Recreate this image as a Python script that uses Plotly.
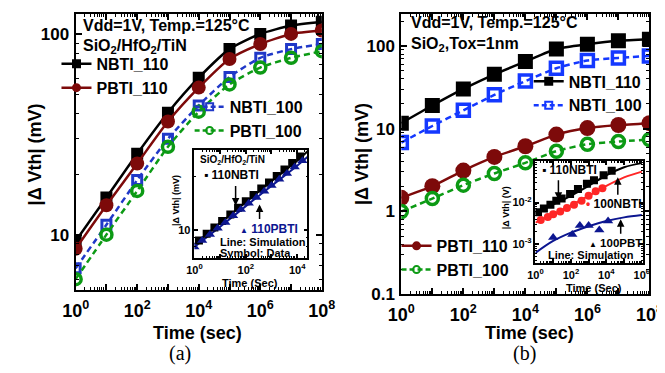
import plotly.graph_objects as go

W, H = 665, 373


def px(x):
    return x / W


def py(y):
    return 1 - y / H


FONT = "Arial, 'Liberation Sans', Helvetica, sans-serif"
SERIF = "'Times New Roman', 'Liberation Serif', serif"

# ---------------- data ----------------
time_main = [1e0, 1e1, 1e2, 1e3, 1e4, 1e5, 1e6, 1e7, 1e8]

# panel (a)  SiO2/HfO2/TiN   (mV)
a_nbti110 = [9.3, 15.3, 25.3, 40.5, 60.5, 84, 100, 110, 115]
a_pbti110 = [8.5, 14.0, 22.6, 36.6, 54, 75, 89, 100, 104]
a_nbti100 = [6.8, 11.2, 18.7, 30, 44, 61, 76, 84, 89]
a_pbti100 = [6.0, 10.0, 16.5, 27.4, 41, 56, 68, 76, 82]

# panel (b)  SiO2, Tox=1nm   (mV)
b_nbti110 = [11.7, 19.1, 30.3, 45.6, 65, 92, 105, 116, 121]
b_nbti100 = [6.8, 10.8, 16.7, 25.7, 37.7, 54, 67, 72, 76]
b_pbti110 = [1.46, 2.02, 3.12, 4.56, 6.14, 8.5, 10.2, 11.1, 11.7]
b_pbti100 = [1.0, 1.43, 2.08, 2.88, 3.87, 5.36, 6.5, 7.0, 7.4]

# inset (a): data (symbols) and simulation (lines), mV
ia_nbti_t = [1.5, 3, 6, 12, 25, 50, 100, 200, 400, 800, 1600, 3200, 6400, 13000]
ia_nbti_v = [8.7, 9.5, 10.3, 11.2, 12.2, 13.3, 14.5, 15.7, 17.1, 18.5, 20.1, 21.9, 23.8, 25.9]
ia_pbti_t = [1, 2, 4, 8, 16, 32, 64, 130, 260, 520, 1000, 2000, 4000, 8000, 16000]
ia_pbti_v = [8.0, 8.7, 9.4, 10.2, 11.0, 12.0, 13.0, 14.1, 15.2, 16.5, 17.8, 19.3, 20.8, 22.6, 24.5]
ia_sim_t = [1, 10, 100, 1000, 10000, 27000]
ia_sim_nbti = [8.3, 10.9, 14.3, 18.8, 24.5, 28.0]
ia_sim_pbti = [8.0, 10.4, 13.6, 17.7, 23.0, 26.0]

# inset (b): data (symbols) and simulation (lines), V
ib_n110_t = [1.4, 3, 7, 15, 30, 90, 250, 800, 2000, 7000, 20000]
ib_n110_v = [0.0058, 0.0072, 0.0088, 0.011, 0.0125, 0.016, 0.021, 0.028, 0.034, 0.045, 0.058]
ib_n100_t = [2, 5, 10, 25, 60, 150, 400, 1000, 2500, 6000]
ib_n100_v = [0.0038, 0.0045, 0.0052, 0.0061, 0.0074, 0.0088, 0.011, 0.0145, 0.0185, 0.022]
ib_p100_t = [10, 120, 320, 1000, 4000, 12500]
ib_p100_v = [0.00145, 0.0017, 0.0028, 0.0028, 0.0022, 0.0036]
ib_sim_t = [1, 10, 100, 1e3, 1e4, 1e5, 1e6]
ib_sim_n110 = [0.0055, 0.009, 0.0145, 0.025, 0.045, 0.07, 0.088]
ib_sim_n100 = [0.0033, 0.0052, 0.0085, 0.0145, 0.025, 0.040, 0.055]
ib_sim_p100 = [0.00062, 0.0012, 0.0019, 0.0027, 0.0036, 0.0044, 0.005]

BLACK = "#000000"
DARKRED = "#7d0a0a"
BLUE_A = "#2038c8"
BLUE_B = "#1438ff"
GREEN = "#0c9a14"
NAVY = "#0c1690"
RED = "#ff2626"

fig = go.Figure()


def main_trace(t, v, name, color, symbol, size, lw_m, dash, xa, ya):
    fig.add_trace(go.Scatter(
        x=t, y=v, mode="lines+markers", name=name, showlegend=False,
        line=dict(color=color, width=2.5, dash=dash, shape="spline", smoothing=0.6),
        marker=dict(symbol=symbol, size=size, color=color, line=dict(color=color, width=lw_m)),
        xaxis=xa, yaxis=ya))


def legend_trace(name, color, symbol, dash, legend, xa, ya):
    fig.add_trace(go.Scatter(
        x=[None], y=[None], mode="lines+markers", name=name, legend=legend,
        line=dict(color=color, width=2.5, dash=dash),
        marker=dict(symbol=symbol, size=7, color=color, line=dict(color=color, width=2)),
        xaxis=xa, yaxis=ya))


DASH = "6px,4px"
LDASH = "5px,3px"
# panel (a)
main_trace(time_main, a_nbti110, "NBTI_110", BLACK, "square", 12, 0, "solid", "x", "y")
main_trace(time_main, a_pbti110, "PBTI_110", DARKRED, "circle", 14, 0, "solid", "x", "y")
main_trace(time_main, a_nbti100, "NBTI_100", BLUE_A, "square-open", 9, 3, DASH, "x", "y")
main_trace(time_main, a_pbti100, "PBTI_100", GREEN, "circle-open", 11, 3.5, DASH, "x", "y")
legend_trace("NBTI_110", BLACK, "square", "solid", "legend", "x", "y")
legend_trace("PBTI_110", DARKRED, "circle", "solid", "legend", "x", "y")
legend_trace("NBTI_100", BLUE_A, "square-open", LDASH, "legend2", "x", "y")
legend_trace("PBTI_100", GREEN, "circle-open", LDASH, "legend2", "x", "y")

# panel (b)
main_trace(time_main, b_nbti110, "NBTI_110", BLACK, "square", 15, 0, "solid", "x2", "y2")
main_trace(time_main, b_nbti100, "NBTI_100", BLUE_B, "square-open", 12, 3.5, DASH, "x2", "y2")
main_trace(time_main, b_pbti110, "PBTI_110", DARKRED, "circle", 16, 0, "solid", "x2", "y2")
main_trace(time_main, b_pbti100, "PBTI_100", GREEN, "circle-open", 12, 3.5, DASH, "x2", "y2")
legend_trace("NBTI_110", BLACK, "square", "solid", "legend3", "x2", "y2")
legend_trace("NBTI_100", BLUE_B, "square-open", LDASH, "legend3", "x2", "y2")
legend_trace("PBTI_110", DARKRED, "circle", "solid", "legend4", "x2", "y2")
legend_trace("PBTI_100", GREEN, "circle-open", LDASH, "legend4", "x2", "y2")

# inset (a)
fig.add_trace(go.Scatter(x=ia_sim_t, y=ia_sim_nbti, mode="lines", showlegend=False,
                         line=dict(color=BLACK, width=2, shape="spline"), xaxis="x3", yaxis="y3"))
fig.add_trace(go.Scatter(x=ia_sim_t, y=ia_sim_pbti, mode="lines", showlegend=False,
                         line=dict(color=NAVY, width=2, shape="spline"), xaxis="x3", yaxis="y3"))
fig.add_trace(go.Scatter(x=ia_nbti_t, y=ia_nbti_v, mode="markers", showlegend=False,
                         marker=dict(symbol="square", size=8, color=BLACK), xaxis="x3", yaxis="y3"))
fig.add_trace(go.Scatter(x=ia_pbti_t, y=ia_pbti_v, mode="markers", showlegend=False,
                         marker=dict(symbol="triangle-up", size=9, color=NAVY), xaxis="x3", yaxis="y3"))

# inset (b)
fig.add_trace(go.Scatter(x=ib_sim_t, y=ib_sim_n110, mode="lines", showlegend=False,
                         line=dict(color=BLACK, width=2, shape="spline"), xaxis="x4", yaxis="y4"))
fig.add_trace(go.Scatter(x=ib_sim_t, y=ib_sim_n100, mode="lines", showlegend=False,
                         line=dict(color=RED, width=2, shape="spline"), xaxis="x4", yaxis="y4"))
fig.add_trace(go.Scatter(x=ib_sim_t, y=ib_sim_p100, mode="lines", showlegend=False,
                         line=dict(color=NAVY, width=2, shape="spline"), xaxis="x4", yaxis="y4"))
fig.add_trace(go.Scatter(x=ib_n110_t, y=ib_n110_v, mode="markers", showlegend=False,
                         marker=dict(symbol="square", size=8, color=BLACK), xaxis="x4", yaxis="y4"))
fig.add_trace(go.Scatter(x=ib_n100_t, y=ib_n100_v, mode="markers", showlegend=False,
                         marker=dict(symbol="circle", size=8, color=RED), xaxis="x4", yaxis="y4"))
fig.add_trace(go.Scatter(x=ib_p100_t, y=ib_p100_v, mode="markers", showlegend=False,
                         marker=dict(symbol="triangle-up", size=9, color=NAVY), xaxis="x4", yaxis="y4"))


# ---------------- axes ----------------
def decades(lo, hi):
    return [10.0 ** k for k in range(lo, hi + 1)]


def minors(lo, hi):
    return [m * 10.0 ** k for k in range(lo, hi + 1) for m in range(2, 10)]


def pow_label(k):
    return "10<sup>%d</sup>" % k


def log_axis(domain, rng, tickvals, ticktext, minorvals, size, lw, tl, anchor, standoff=0):
    return dict(
        type="log", domain=domain, range=rng, anchor=anchor,
        tickmode="array", tickvals=tickvals, ticktext=ticktext,
        ticks="inside", ticklen=tl, tickwidth=1.5, tickcolor="black",
        showline=True, linewidth=lw, linecolor="black", mirror="ticks",
        showgrid=False, zeroline=False, ticklabelstandoff=standoff,
        tickfont=dict(family=FONT, size=size, color="black", weight="bold"),
        minor=dict(tickmode="array", tickvals=minorvals, ticks="inside",
                   ticklen=tl / 2, tickwidth=1, tickcolor="black", showgrid=False),
    )


xa_vals = decades(0, 8)
xa_text = [pow_label(k) if k % 2 == 0 else "" for k in range(0, 9)]

fig.update_layout(
    xaxis=log_axis([px(56), px(313)], [0, 8], xa_vals, xa_text, minors(0, 7), 18, 2, 6, "y", 3),
    yaxis=log_axis([py(290), py(6)], [0.723, 2.10], [10, 100], ["10", "100"], minors(0, 2), 17, 2, 6, "x", 1),
    xaxis2=log_axis([px(396), px(655)], [0, 8], xa_vals, xa_text, minors(0, 7), 18, 2, 6, "y2", 3),
    yaxis2=log_axis([py(294), py(6)], [-1, 2.39], [0.1, 1, 10, 100], ["0.1", "1", "10", "100"],
                    minors(-1, 2), 17, 2, 6, "x2", 1),
    xaxis3=log_axis([px(180), px(298)], [0, 4.4], decades(0, 4),
                    [pow_label(k) if k % 2 == 0 else "" for k in range(0, 5)], minors(0, 4), 11, 1.5, 4, "y3", 1),
    yaxis3=log_axis([py(257), py(146)], [0.84, 1.45], [10], ["10"], minors(0, 1), 11, 1.5, 4, "x3"),
    xaxis4=log_axis([px(536), px(648)], [0, 6.05], decades(0, 6),
                    [pow_label(k) if k % 2 == 0 else "" for k in range(0, 7)], minors(0, 6), 11, 1.5, 4, "y4", 1),
    yaxis4=log_axis([py(262), py(157)], [-3.45, -1.0], [1e-3, 1e-2], ["10<sup>-3</sup>", "10<sup>-2</sup>"],
                    minors(-4, -2), 11, 1.5, 4, "x4"),
)


def leg(x, y):
    return dict(x=px(x), y=py(y), xanchor="left", yanchor="top", bgcolor="rgba(0,0,0,0)",
                borderwidth=0, tracegroupgap=0, itemwidth=30, traceorder="normal",
                font=dict(family=FONT, size=16, color="black", weight="bold"))


fig.update_layout(
    legend=leg(36, 40),
    legend2=leg(175, 84),
    legend3=leg(529, 58),
    legend4=leg(391, 227),
)

ann = []


def text(x, y, s, size, anchor="left", color="black", family=FONT, bold=True, angle=0):
    ann.append(dict(x=px(x), y=py(y), xref="paper", yref="paper", text=s, showarrow=False,
                    xanchor=anchor, yanchor="middle", textangle=angle,
                    font=dict(family=family, size=size, color=color, weight="bold" if bold else "normal")))


def arrow(x, y_head, y_tail):
    ann.append(dict(x=px(x), y=py(y_head), xref="paper", yref="paper", text="", showarrow=True,
                    ax=0, ay=y_tail - y_head, arrowhead=2, arrowsize=1, arrowwidth=1.5,
                    arrowcolor="black"))


# panel (a) texts
text(62, 18, "Vdd=1V, Temp.=125°C", 16)
text(62, 40, "SiO<sub>2</sub>/HfO<sub>2</sub>/TiN", 16)
text(183, 334, "Time (sec)", 18, anchor="center")
text(14, 150, "|Δ Vth| (mV)", 18, anchor="center", angle=-90)
text(165, 355, "(a)", 20, anchor="center", family=SERIF, bold=False)
# panel (b) texts
text(404, 15, "Vdd=1V, Temp.=125°C", 16)
text(404, 38, "SiO<sub>2</sub>,Tox=1nm", 16)
text(530, 334, "Time (sec)", 18, anchor="center")
text(355, 150, "|Δ Vth| (mV)", 18, anchor="center", angle=-90)
text(525, 355, "(b)", 20, anchor="center", family=SERIF, bold=False)

# inset (a) texts
text(184, 156, "SiO<sub>2</sub>/HfO<sub>2</sub>/TiN", 10)
text(188, 172, "▪ 110NBTI", 12)
arrow(223, 203, 182)
arrow(248, 202, 218)
text(226, 227, "<span style='font-size:8px'>▲</span> 110PBTI", 12, color=NAVY)
text(205, 240, "Line: Simulation", 11)
text(205, 252, "Symbol: Data", 11)
text(238, 283, "Time (Sec)", 11, anchor="center")
text(160, 198, "|Δ Vth| (mV)", 9, anchor="center", angle=-90)

# inset (b) texts
text(541, 166, "▪ 110NBTI", 12)
arrow(560, 197, 176)
text(587, 201, "<span style='color:%s'>•</span> 100NBTI" % RED, 12)
arrow(622, 174, 193)
text(590, 241, "<span style='font-size:8px'>▲</span> 100PBTI", 11.5, color=BLACK)
arrow(625, 217, 233)
text(547, 254, "Line: Simulation", 11)
text(597, 288, "Time (Sec)", 11, anchor="center")
text(505, 205, "|Δ Vth| (V)", 9, anchor="center", angle=-90)

fig.update_layout(
    annotations=ann,
    width=W, height=H,
    margin=dict(l=0, r=0, t=0, b=0),
    paper_bgcolor="white", plot_bgcolor="rgba(0,0,0,0)",
    font=dict(family=FONT, color="black"),
)

fig.write_html("out.html")
